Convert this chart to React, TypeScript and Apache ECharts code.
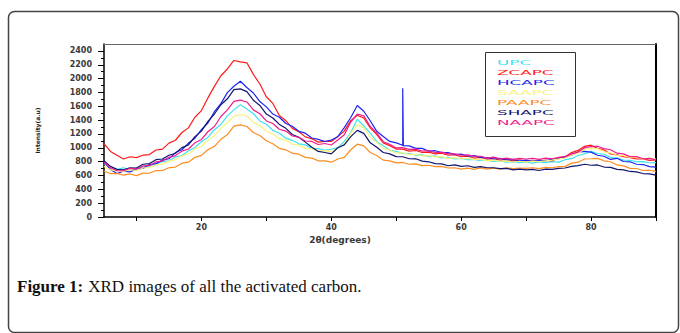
import React, { useEffect, useRef } from "react";
import * as echarts from "echarts";

// 2θ sampling positions (degrees)
const twoTheta = [5,6,7,8,9,10,11,12,13,14,15,16,17,18,19,20,21,22,23,24,25,26,27,28,29,30,31,32,33,34,35,36,37,38,39,40,41,42,43,44,45,46,47,48,49,50,51,52,53,54,55,56,57,58,59,60,61,62,63,64,65,66,67,68,69,70,71,72,73,74,75,76,77,78,79,80,81,82,83,84,85,86,87,88,89,90];

const UPC = [772,715,688,712,684,706,721,738,762,801,
 812,868,889,958,1002,1091,1150,1262,1338,1462,
 1548,1622,1561,1492,1388,1341,1252,1211,1139,1108,
 1058,1042,992,987,968,979,1003,1092,1221,1412,
 1318,1212,1089,1031,968,948,918,917,893,898,
 872,884,853,861,838,847,829,832,813,822,
 803,811,794,801,784,797,779,796,785,801,
 793,828,843,889,912,948,918,907,862,851,
 823,819,798,801,784,786];

const ZCAPC = [1062,948,892,838,871,858,893,902,968,981,
 1068,1109,1221,1288,1442,1538,1721,1888,2041,2139,
 2262,2241,2228,2061,1922,1738,1641,1468,1392,1281,
 1232,1158,1131,1082,1092,1091,1162,1241,1392,1471,
 1431,1289,1192,1071,1031,982,981,952,961,932,
 938,912,921,892,902,871,878,852,861,838,
 842,821,833,812,826,808,818,803,821,809,
 858,872,931,962,1021,1038,992,968,912,897,
 872,858,838,841,818,826];

const HCAPC = [792,688,628,661,652,694,702,758,771,822,
 842,931,972,1068,1138,1262,1358,1521,1638,1797,
 1889,1962,1871,1792,1668,1591,1488,1442,1351,1312,
 1238,1211,1142,1121,1091,1112,1161,1292,1438,1611,
 1528,1391,1238,1162,1092,1071,1032,1028,992,991,
 951,958,932,931,902,908,881,887,862,858,
 838,847,822,831,812,822,808,821,812,836,
 842,872,892,938,948,938,892,878,832,848,
 802,798,762,758,728,722];

// sharp reflection in HCAPC near 51°
const hcapcSpikeX = [50.9, 51.0, 51.1];
const hcapcSpikeY = [1040, 1860, 1030];

const SAAPC = [731,682,668,659,684,672,708,714,752,763,
 808,828,884,912,982,1022,1108,1171,1281,1362,
 1458,1481,1459,1371,1318,1242,1198,1132,1108,1052,
 1038,992,988,952,958,944,998,1052,1208,1331,
 1288,1152,1078,992,968,922,928,902,908,882,
 888,868,872,848,858,842,848,832,833,812,
 822,808,812,795,806,798,808,799,812,822,
 838,852,898,922,978,992,988,942,928,892,
 888,862,866,838,852,836];

const PAAPC = [662,628,631,604,622,598,634,632,671,672,
 712,722,778,792,862,891,972,1021,1122,1191,
 1312,1331,1308,1221,1178,1102,1058,992,971,922,
 908,862,851,812,811,792,838,862,972,1052,
 1028,932,888,822,812,782,788,762,768,742,
 748,728,731,708,712,692,706,688,709,692,
 706,692,711,698,708,702,712,698,716,712,
 728,732,778,792,838,842,848,812,798,752,
 738,702,701,672,676,655];

const SHAPC = [812,731,688,681,712,708,762,772,828,838,
 892,921,1002,1041,1162,1241,1382,1488,1622,1708,
 1842,1851,1812,1688,1612,1488,1431,1338,1281,1192,
 1151,1082,1008,948,932,912,1001,1042,1162,1252,
 1208,1072,1008,932,912,872,871,842,841,808,
 798,772,768,741,752,732,741,718,728,712,
 712,698,702,682,692,681,688,672,691,688,
 702,708,732,742,762,748,752,722,718,688,
 682,658,652,628,622,606];

const NAAPC = [792,712,668,668,702,692,738,742,798,808,
 862,888,952,982,1072,1121,1232,1308,1452,1548,
 1672,1688,1662,1548,1492,1388,1352,1268,1242,1171,
 1152,1098,1092,1048,1062,1041,1112,1188,1372,1488,
 1462,1308,1212,1088,1052,998,1002,978,981,952,
 958,932,938,912,911,892,898,878,878,852,
 866,842,852,832,848,838,846,832,852,842,
 862,868,912,938,1002,1018,1022,988,972,922,
 912,872,872,842,848,826];

const seriesNames = ["UPC", "ZCAPC", "HCAPC", "SAAPC", "PAAPC", "SHAPC", "NAAPC"];
const seriesValues = [UPC, ZCAPC, HCAPC, SAAPC, PAAPC, SHAPC, NAAPC];
const seriesColors = ["#3fe3f0", "#ff1a1a", "#1c26f0", "#f8f27a", "#ff8c1f", "#13156e", "#f01c8c"];

const yTickValues = [0, 200, 400, 600, 800, 1000, 1200, 1400, 1600, 1800, 2000, 2200, 2400];
const xTickValues = [10, 20, 30, 40, 50, 60, 70, 80, 90];
const xLabelValues = [20, 40, 60, 80];

const captionBold = "Figure 1:";
const captionText = "XRD images of all the activated carbon.";

function buildPairs(i: number): number[][] {
  const pairs = twoTheta.map((x, k) => [x, seriesValues[i][k]]);
  if (seriesNames[i] === "HCAPC") {
    hcapcSpikeX.forEach((x, k) => pairs.push([x, hcapcSpikeY[k]]));
    pairs.sort((a, b) => a[0] - b[0]);
  }
  return pairs;
}

export default function App() {
  const ref = useRef<HTMLDivElement>(null);

  useEffect(() => {
    if (!ref.current) return;
    const chart = echarts.init(ref.current, undefined, { renderer: "svg" });

    const axisFont = { fontFamily: "DejaVu Sans", fontWeight: "bold" as const, color: "#3a3a3a" };

    const legendItems: any[] = [
      {
        type: "rect",
        shape: { x: 485.5, y: 52.5, width: 90, height: 84 },
        style: { fill: "#fff", stroke: "#333", lineWidth: 1 },
        z: 10,
      },
    ];
    seriesNames.forEach((name, i) => {
      legendItems.push({
        type: "text",
        x: 497,
        y: 63 + i * 10,
        scaleX: 2.4,
        style: {
          text: name,
          fill: seriesColors[i],
          font: "normal 7px 'DejaVu Sans'",
          textVerticalAlign: "middle",
          verticalAlign: "middle",
        },
        z: 11,
      });
    });

    chart.setOption({
      animation: false,
      backgroundColor: "#fff",
      title: {
        text: `{b|${captionBold}} {r|${captionText}}`,
        left: 12,
        top: 272,
        textStyle: {
          rich: {
            b: { fontFamily: "Liberation Serif", fontWeight: "bold", fontSize: 17, color: "#111" },
            r: { fontFamily: "Liberation Serif", fontWeight: "normal", fontSize: 17, color: "#111" },
          },
        },
      },
      grid: { left: 104, right: 24, top: 44, bottom: 116 },
      xAxis: [
        {
          type: "value",
          min: 5,
          max: 90,
          position: "bottom",
          axisLine: { show: true, onZero: false, lineStyle: { color: "#000", width: 1.5 } },
          axisTick: { show: true, length: 4, customValues: xTickValues, lineStyle: { color: "#000" } },
          axisLabel: {
            show: true,
            customValues: xLabelValues,
            margin: 6,
            fontSize: 8,
            formatter: (v: number) => String(v),
            ...axisFont,
          },
          splitLine: { show: false },
          name: "2θ(degrees)",
          nameLocation: "middle",
          nameGap: 14,
          nameTextStyle: { fontSize: 9, ...axisFont, padding: [0, 80, 0, 0] },
        },
        {
          type: "value",
          min: 5,
          max: 90,
          position: "top",
          axisLine: { show: true, onZero: false, lineStyle: { color: "#666", width: 1 } },
          axisTick: { show: false },
          axisLabel: { show: false },
          splitLine: { show: false },
        },
      ],
      yAxis: [
        {
          type: "value",
          min: 0,
          max: 2500,
          interval: 200,
          position: "left",
          axisLine: { show: true, onZero: false, lineStyle: { color: "#000", width: 1.5 } },
          axisTick: { show: true, length: 6, customValues: yTickValues, lineStyle: { color: "#000" } },
          minorTick: { show: true, splitNumber: 2, length: 3, lineStyle: { color: "#000" } },
          axisLabel: {
            show: true,
            customValues: yTickValues,
            margin: 12,
            fontSize: 8,
            formatter: (v: number) => String(v),
            ...axisFont,
          },
          splitLine: { show: false },
          name: "Intensity(a.u)",
          nameLocation: "middle",
          nameGap: 64,
          nameRotate: 90,
          nameTextStyle: { fontSize: 6, ...axisFont, color: "#222" },
        },
        {
          type: "value",
          min: 0,
          max: 2500,
          position: "right",
          axisLine: { show: true, onZero: false, lineStyle: { color: "#000", width: 2 } },
          axisTick: { show: false },
          axisLabel: { show: false },
          splitLine: { show: false },
        },
      ],
      series: seriesNames.map((name, i) => ({
        name,
        type: "line",
        xAxisIndex: 0,
        yAxisIndex: 0,
        data: buildPairs(i),
        showSymbol: false,
        symbol: "none",
        lineStyle: { color: seriesColors[i], width: 1.2 },
        itemStyle: { color: seriesColors[i] },
        z: 2 + i,
      })),
      graphic: [
        {
          type: "rect",
          shape: { x: 8.5, y: 11.5, width: 670, height: 321, r: 6 },
          style: { fill: "none", stroke: "#444", lineWidth: 1.5 },
          z: 0,
          silent: true,
        },
        ...legendItems,
      ],
    });

    return () => chart.dispose();
  }, []);

  return (
    <div
      ref={ref}
      style={{ position: "absolute", left: 0, top: 0, width: 680, height: 333 }}
    />
  );
}
